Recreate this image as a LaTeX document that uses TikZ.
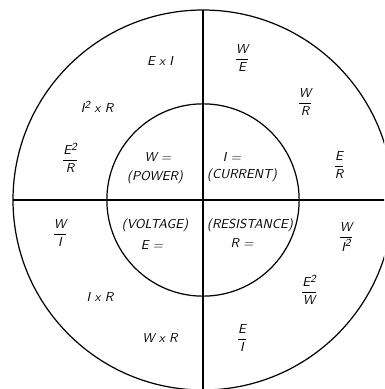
\documentclass[tikz,border=0pt]{standalone}
\usetikzlibrary{positioning}
\newcommand{\frc}[2]{$\displaystyle\frac{\mbox{#1}}{\mbox{#2}}$}
\newcommand{\sq}{\raisebox{0.7ex}{\footnotesize 2}}

\begin{document}
\begin{tikzpicture}[x=0.026cm, y=-0.026cm,
  ring/.style={line width=0.9pt},
  axis/.style={line width=0.8pt},
  qty/.style={font=\fontsize{9.6}{11}\sffamily\itshape, inner sep=1pt},
  frm/.style={font=\fontsize{9.6}{11}\sffamily\itshape, inner sep=1pt}
]
\useasboundingbox (0,0) rectangle (384,389);
\clip (0,0) rectangle (384,389);
\coordinate (c) at (203,200);
\draw[ring] (c) circle[radius=4.94cm];
\draw[ring] (c) circle[radius=2.5cm];
\draw[axis] (c) ++(-190,0) -- ++(380,0);
\draw[axis] (c) ++(0,-190) -- ++(0,380);

% inner circle: the four quantities
\node[qty] (wq) at (158,157) {W =};
\node[qty] (pwr) at (155,177) {(POWER)};
\node[qty] (iq) at (232,157) {I =};
\node[qty] (cur) at (242,175) {(CURRENT)};
\node[qty] (volt) at (155,225) {(VOLTAGE)};
\node[qty] (eq) at (152,245) {E =};
\node[qty] (res) at (250,225) {(RESISTANCE)};
\node[qty] (rq) at (242,243) {R =};

% outer ring: formulas
\node[frm] (w1) at (160,61) {E x I};
\node[frm] (w2) at (97,107) {I\sq{} x R};
\node[frm] (w3) at (70,158) {\frc{E\sq}{R}};
\node[frm] (i1) at (242,58) {\frc{W}{E}};
\node[frm] (i2) at (305,102) {\frc{W}{R}};
\node[frm] (i3) at (339,165) {\frc{E}{R}};
\node[frm] (e1) at (60,233) {\frc{W}{I}};
\node[frm] (e2) at (100,297) {I x R};
\node[frm] (e3) at (160,338) {W x R};
\node[frm] (r1) at (346,237) {\frc{W}{I\sq}};
\node[frm] (r2) at (309,290) {\frc{E\sq}{W}};
\node[frm] (r3) at (242,338) {\frc{E}{I}};
\end{tikzpicture}
\end{document}
